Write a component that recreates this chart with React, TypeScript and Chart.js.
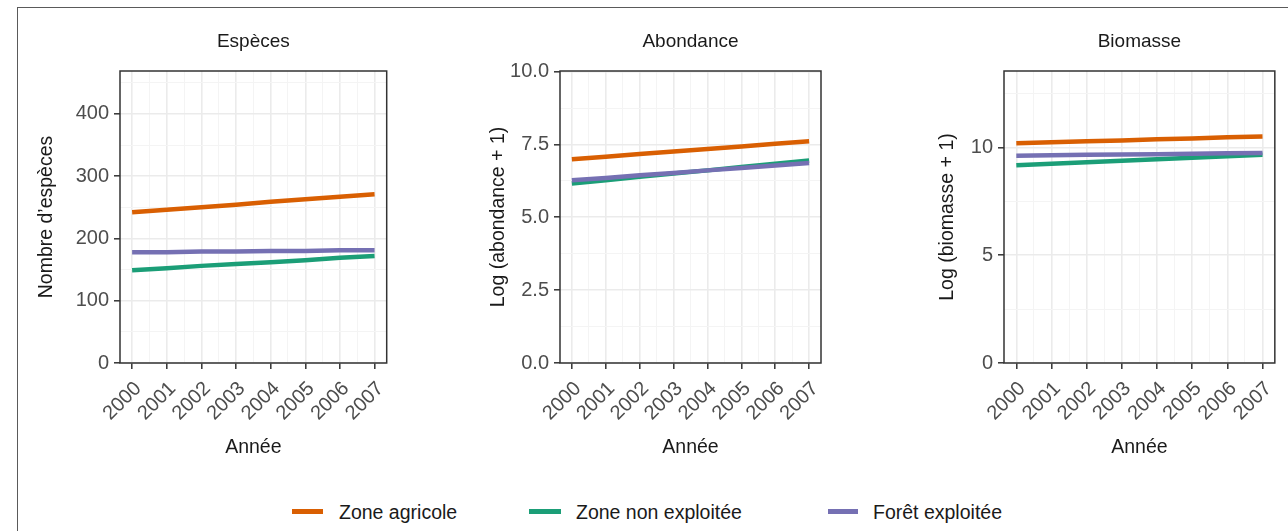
import React, { useEffect, useRef } from 'react';
import { Chart, registerables } from 'chart.js';

Chart.register(...registerables);

// ---------- Data ----------
const YEARS = [2000, 2001, 2002, 2003, 2004, 2005, 2006, 2007];
const SERIES_NAMES = ['Zone agricole', 'Zone non exploitée', 'Forêt exploitée'];
const SERIES_COLORS = ['#D95F02', '#1B9E77', '#7570B3'];

const ESPECES_AGRICOLE = [242, 246, 250, 254, 259, 263, 267, 271];
const ESPECES_NON_EXPLOITEE = [149, 152, 156, 159, 162, 165, 169, 172];
const ESPECES_FORET = [178, 178, 179, 179, 180, 180, 181, 181];

const ABONDANCE_AGRICOLE = [6.99, 7.08, 7.17, 7.26, 7.34, 7.43, 7.52, 7.61];
const ABONDANCE_NON_EXPLOITEE = [6.16, 6.27, 6.39, 6.5, 6.61, 6.73, 6.84, 6.95];
const ABONDANCE_FORET = [6.27, 6.35, 6.44, 6.52, 6.61, 6.69, 6.78, 6.86];

const BIOMASSE_AGRICOLE = [10.2, 10.24, 10.29, 10.33, 10.38, 10.42, 10.47, 10.51];
const BIOMASSE_NON_EXPLOITEE = [9.18, 9.25, 9.32, 9.39, 9.45, 9.52, 9.59, 9.66];
const BIOMASSE_FORET = [9.62, 9.64, 9.66, 9.68, 9.69, 9.71, 9.73, 9.75];

const PANEL_TITLES = ['Espèces', 'Abondance', 'Biomasse'];
const Y_TITLES = ['Nombre d’espèces', 'Log (abondance + 1)', 'Log (biomasse + 1)'];
const X_TITLE = 'Année';

const X_MINOR_TICKS = [2000.5, 2001.5, 2002.5, 2003.5, 2004.5, 2005.5, 2006.5];

const Y_MAJOR_ESPECES = [0, 100, 200, 300, 400];
const Y_MINOR_ESPECES = [50, 150, 250, 350, 450];
const Y_MAJOR_ABONDANCE = [0, 2.5, 5, 7.5, 10];
const Y_MINOR_ABONDANCE = [1.25, 3.75, 6.25, 8.75];
const Y_MAJOR_BIOMASSE = [0, 5, 10];
const Y_MINOR_BIOMASSE = [2.5, 7.5, 12.5];

// ---------- Styling / layout ----------
const FONT = '"Liberation Sans", Arial, Helvetica, sans-serif';
const TICK_COLOR = '#4D4D4D';
const TEXT_COLOR = '#1A1A1A';

const PANELS = [
  {
    title: PANEL_TITLES[0], yTitle: Y_TITLES[0],
    series: [ESPECES_AGRICOLE, ESPECES_NON_EXPLOITEE, ESPECES_FORET],
    yMajor: Y_MAJOR_ESPECES, yMinor: Y_MINOR_ESPECES, yMax: 469, decimals: 0,
    left: 20, width: 400, areaLeft: 120, areaRight: 386.7, yTitleCenter: 47,
  },
  {
    title: PANEL_TITLES[1], yTitle: Y_TITLES[1],
    series: [ABONDANCE_AGRICOLE, ABONDANCE_NON_EXPLOITEE, ABONDANCE_FORET],
    yMajor: Y_MAJOR_ABONDANCE, yMinor: Y_MINOR_ABONDANCE, yMax: 10.02, decimals: 1,
    left: 450, width: 400, areaLeft: 560, areaRight: 821, yTitleCenter: 498.3,
  },
  {
    title: PANEL_TITLES[2], yTitle: Y_TITLES[2],
    series: [BIOMASSE_AGRICOLE, BIOMASSE_NON_EXPLOITEE, BIOMASSE_FORET],
    yMajor: Y_MAJOR_BIOMASSE, yMinor: Y_MINOR_BIOMASSE, yMax: 13.55, decimals: 0,
    left: 880, width: 408, areaLeft: 1004, areaRight: 1276.7, yTitleCenter: 947.3,
  },
];

const CANVAS_H = 470;
const AREA_TOP = 71;
const AREA_BOTTOM = 363;
const TITLE_Y = 42;
const X_TITLE_Y = 447.5;

const TITLE_SIZE = 19;
const AXIS_TITLE_SIZE = 19.5;
const TICK_SIZE = 20;

const framePlugin = {
  id: 'frame',
  afterDraw(chart: any, _args: any, opts: any) {
    const { ctx, chartArea: a } = chart;
    ctx.save();
    ctx.strokeStyle = '#333333';
    ctx.lineWidth = 1.5;
    ctx.strokeRect(a.left, a.top, a.right - a.left, a.bottom - a.top);
    ctx.fillStyle = TEXT_COLOR;
    ctx.font = `${TITLE_SIZE}px ${FONT}`;
    ctx.textAlign = 'center';
    ctx.textBaseline = 'middle';
    ctx.fillText(opts.text, (a.left + a.right) / 2, opts.y);
    ctx.restore();
  },
};

function isMinorX(v: number) {
  return !Number.isInteger(v);
}

function Panel({ cfg }: { cfg: any }) {
  const ref = useRef<HTMLCanvasElement | null>(null);
  useEffect(() => {
    if (!ref.current) return;
    const yAxisWidth = cfg.areaLeft - cfg.left;
    const padRight = cfg.left + cfg.width - cfg.areaRight;
    const axisLH = AXIS_TITLE_SIZE * 1.2;
    const yTitlePad = cfg.yTitleCenter - cfg.left - axisLH / 2;
    const xTitlePad = CANVAS_H - X_TITLE_Y - axisLH / 2;
    const majorSet = new Set(cfg.yMajor);
    const yTickVals = [...cfg.yMajor, ...cfg.yMinor].sort((a: number, b: number) => a - b);
    const xTickVals = [...YEARS, ...X_MINOR_TICKS].sort((a, b) => a - b);

    const chart = new Chart(ref.current, {
      type: 'line',
      data: {
        datasets: SERIES_NAMES.map((name, i) => ({
          label: name,
          data: YEARS.map((yr, k) => ({ x: yr, y: cfg.series[i][k] })),
          borderColor: SERIES_COLORS[i],
          backgroundColor: SERIES_COLORS[i],
          borderWidth: 4.5,
          pointRadius: 0,
          tension: 0,
          fill: false,
          order: 2 - i,
        })),
      },
      options: {
        responsive: false,
        animation: false,
        devicePixelRatio: 1,
        layout: { padding: { top: AREA_TOP, right: padRight, bottom: 0, left: 0 } },
        plugins: {
          legend: { display: false },
          tooltip: { enabled: false },
          frame: { text: cfg.title, y: TITLE_Y },
        } as any,
        scales: {
          x: {
            type: 'linear',
            min: 1999.65,
            max: 2007.35,
            afterBuildTicks: (s: any) => {
              s.ticks = xTickVals.map((v) => ({ value: v }));
            },
            afterFit: (s: any) => {
              s.height = CANVAS_H - AREA_BOTTOM;
            },
            border: { display: false },
            grid: {
              color: (c: any) => (isMinorX(c.tick.value) ? '#F4F4F4' : '#EBEBEB'),
              lineWidth: (c: any) => (isMinorX(c.tick.value) ? 1 : 1.6),
              tickColor: (c: any) => (isMinorX(c.tick.value) ? 'rgba(0,0,0,0)' : '#333333'),
              tickWidth: 1.5,
              tickLength: 6,
              drawTicks: true,
            },
            ticks: {
              autoSkip: false,
              minRotation: 45,
              maxRotation: 45,
              padding: 8,
              labelOffset: 6,
              color: TICK_COLOR,
              font: { family: FONT, size: TICK_SIZE },
              callback: (v: any) => (isMinorX(Number(v)) ? '' : String(v)),
            },
            title: {
              display: true,
              text: X_TITLE,
              color: TEXT_COLOR,
              font: { family: FONT, size: AXIS_TITLE_SIZE },
              padding: { top: 0, bottom: xTitlePad },
            },
          },
          y: {
            type: 'linear',
            min: 0,
            max: cfg.yMax,
            afterBuildTicks: (s: any) => {
              s.ticks = yTickVals.map((v: number) => ({ value: v }));
            },
            afterFit: (s: any) => {
              s.width = yAxisWidth;
            },
            border: { display: false },
            grid: {
              color: (c: any) => (majorSet.has(c.tick.value) ? '#EBEBEB' : '#F4F4F4'),
              lineWidth: (c: any) => (majorSet.has(c.tick.value) ? 1.6 : 1),
              tickColor: (c: any) => (majorSet.has(c.tick.value) ? '#333333' : 'rgba(0,0,0,0)'),
              tickWidth: 1.5,
              tickLength: 6,
              drawTicks: true,
            },
            ticks: {
              padding: 5,
              color: TICK_COLOR,
              font: { family: FONT, size: TICK_SIZE },
              callback: (v: any) =>
                majorSet.has(Number(v)) ? Number(v).toFixed(cfg.decimals) : '',
            },
            title: {
              display: true,
              text: cfg.yTitle,
              color: TEXT_COLOR,
              font: { family: FONT, size: AXIS_TITLE_SIZE },
              padding: { top: yTitlePad, bottom: 0 },
            },
          },
        },
      } as any,
      plugins: [framePlugin],
    });
    return () => chart.destroy();
  }, []);
  return (
    <canvas
      ref={ref}
      width={cfg.width}
      height={CANVAS_H}
      style={{ position: 'absolute', left: cfg.left, top: 0, width: cfg.width, height: CANVAS_H }}
    />
  );
}

const LEGEND_ITEMS = [
  { swatchLeft: 292, swatchWidth: 31, textLeft: 339 },
  { swatchLeft: 529, swatchWidth: 32, textLeft: 576 },
  { swatchLeft: 828, swatchWidth: 30, textLeft: 873 },
];
const LEGEND_Y = 511.5;

export default function App() {
  return (
    <div
      style={{
        position: 'absolute',
        left: 0,
        top: 0,
        width: 1288,
        height: 531,
        overflow: 'hidden',
        background: '#FFFFFF',
        fontFamily: FONT,
      }}
    >
      <div
        style={{
          position: 'absolute',
          left: 17,
          top: 7,
          width: 1300,
          height: 600,
          border: '1.5px solid #5A5A5A',
          boxSizing: 'border-box',
        }}
      />
      {PANELS.map((p, i) => (
        <Panel key={i} cfg={p} />
      ))}
      {SERIES_NAMES.map((name, i) => (
        <React.Fragment key={name}>
          <div
            style={{
              position: 'absolute',
              left: LEGEND_ITEMS[i].swatchLeft,
              top: LEGEND_Y - 2.25,
              width: LEGEND_ITEMS[i].swatchWidth,
              height: 4.5,
              background: SERIES_COLORS[i],
            }}
          />
          <div
            style={{
              position: 'absolute',
              left: LEGEND_ITEMS[i].textLeft,
              top: LEGEND_Y - 12,
              height: 24,
              lineHeight: '24px',
              fontSize: 19.5,
              color: TEXT_COLOR,
              whiteSpace: 'nowrap',
            }}
          >
            {name}
          </div>
        </React.Fragment>
      ))}
    </div>
  );
}
